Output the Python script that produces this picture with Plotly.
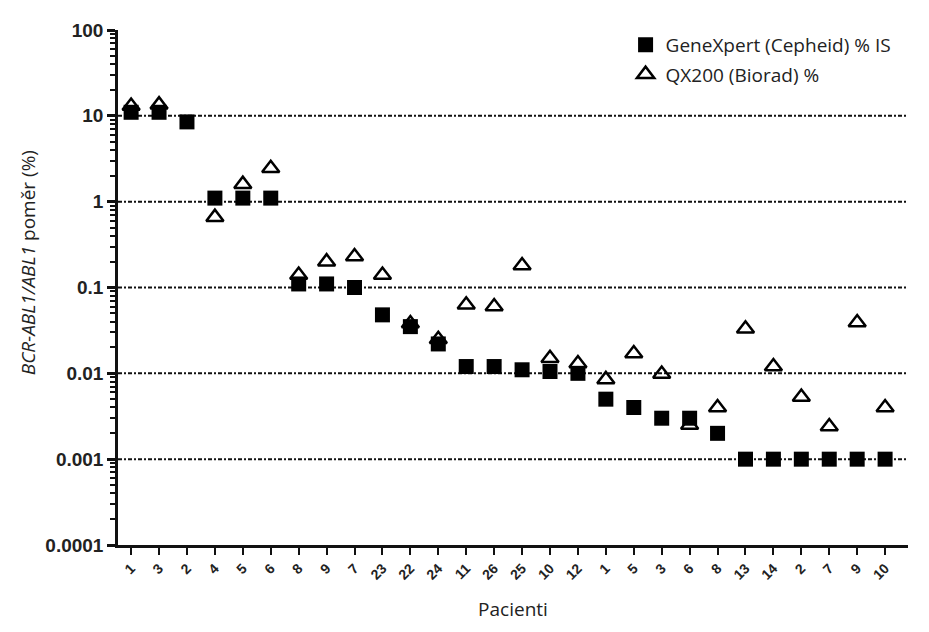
import plotly.graph_objects as go

patients = ["1", "3", "2", "4", "5", "6", "8", "9", "7", "23", "22", "24", "11", "26",
            "25", "10", "12", "1", "5", "3", "6", "8", "13", "14", "2", "7", "9", "10"]
genexpert = [11, 11, 8.5, 1.1, 1.1, 1.1, 0.11, 0.11, 0.1, 0.048, 0.035, 0.022, 0.012, 0.012,
             0.011, 0.0105, 0.01, 0.005, 0.004, 0.003, 0.003, 0.002, 0.001, 0.001, 0.001,
             0.001, 0.001, 0.001]
qx200 = [13, 13.5, None, 0.66, 1.6, 2.45, 0.14, 0.2, 0.23, 0.14, 0.038, 0.025, 0.063, 0.06,
         0.18, 0.015, 0.013, 0.0085, 0.017, 0.0098, 0.0025, 0.004, 0.033, 0.012, 0.0053,
         0.0024, 0.039, 0.004]
ytick_vals = [0.0001, 0.001, 0.01, 0.1, 1, 10, 100]
ytick_text = ["0.0001", "0.001", "0.01", "0.1", "1", "10", "100"]
grid_vals = [0.001, 0.01, 0.1, 1, 10]
y_title = "<i>BCR-ABL1/ABL1</i> poměr (%)"
x_title = "Pacienti"

xpos = list(range(len(patients)))
minor_vals = [m * 10 ** k for k in range(-4, 2) for m in range(2, 10)]

fig = go.Figure()
fig.add_trace(go.Scatter(
    x=xpos, y=genexpert, mode="markers", name="GeneXpert (Cepheid) % IS",
    marker=dict(symbol="square", size=15, color="black"), legend="legend", showlegend=True))
fig.add_trace(go.Scatter(
    x=xpos, y=qx200, mode="markers", name="QX200 (Biorad) %",
    marker=dict(symbol="triangle-up-open", size=15, color="black",
                line=dict(width=2.5, color="black")), legend="legend2", showlegend=True))

for g in grid_vals:
    fig.add_shape(type="line", xref="paper", yref="y", x0=0, x1=1, y0=g, y1=g,
                  line=dict(color="#111", width=2, dash="4px,2px,2px,2px"), layer="below")

fig.add_annotation(text=y_title, xref="paper", yref="paper", x=-0.114, y=0.549,
                   xanchor="center", yanchor="middle", textangle=-90, showarrow=False,
                   font=dict(family="Open Sans", size=19, color="#222"))

legend_font = dict(size=19, family="Open Sans", color="#222")
fig.update_layout(
    width=921, height=624,
    margin=dict(l=110, r=21, t=12, b=87),
    paper_bgcolor="white", plot_bgcolor="white",
    showlegend=True,
    font=dict(family="Open Sans", color="#222"),
    legend=dict(x=0.6425, y=0.971, xanchor="left", yanchor="middle",
                font=legend_font, bgcolor="rgba(0,0,0,0)"),
    legend2=dict(x=0.6425, y=0.914, xanchor="left", yanchor="middle",
                 font=legend_font, bgcolor="rgba(0,0,0,0)"),
    xaxis=dict(
        range=[-0.47, 27.82], tickmode="array", tickvals=xpos, ticktext=patients,
        tickangle=-45, ticks="outside", ticklen=7, tickwidth=2, tickcolor="#111",
        showline=True, linewidth=2.5, linecolor="#111", showgrid=False, zeroline=False,
        tickfont=dict(family="Liberation Sans", size=14, color="#222", weight="bold"),
        title=dict(text=x_title, font=dict(family="Open Sans", size=19, color="#222"),
                   standoff=22),
    ),
    yaxis=dict(
        type="log", range=[-4, 2], tickmode="array", tickvals=ytick_vals, ticktext=ytick_text,
        ticks="outside", ticklen=8, tickwidth=2.5, tickcolor="#111",
        showline=True, linewidth=2.5, linecolor="#111", showgrid=False, zeroline=False,
        tickfont=dict(family="Liberation Sans", size=19, color="#222", weight="bold"),
        minor=dict(tickmode="array", tickvals=minor_vals, ticks="outside", ticklen=5,
                   tickwidth=2, tickcolor="#111", showgrid=False),
    ),
)

fig.write_html("out.html")
